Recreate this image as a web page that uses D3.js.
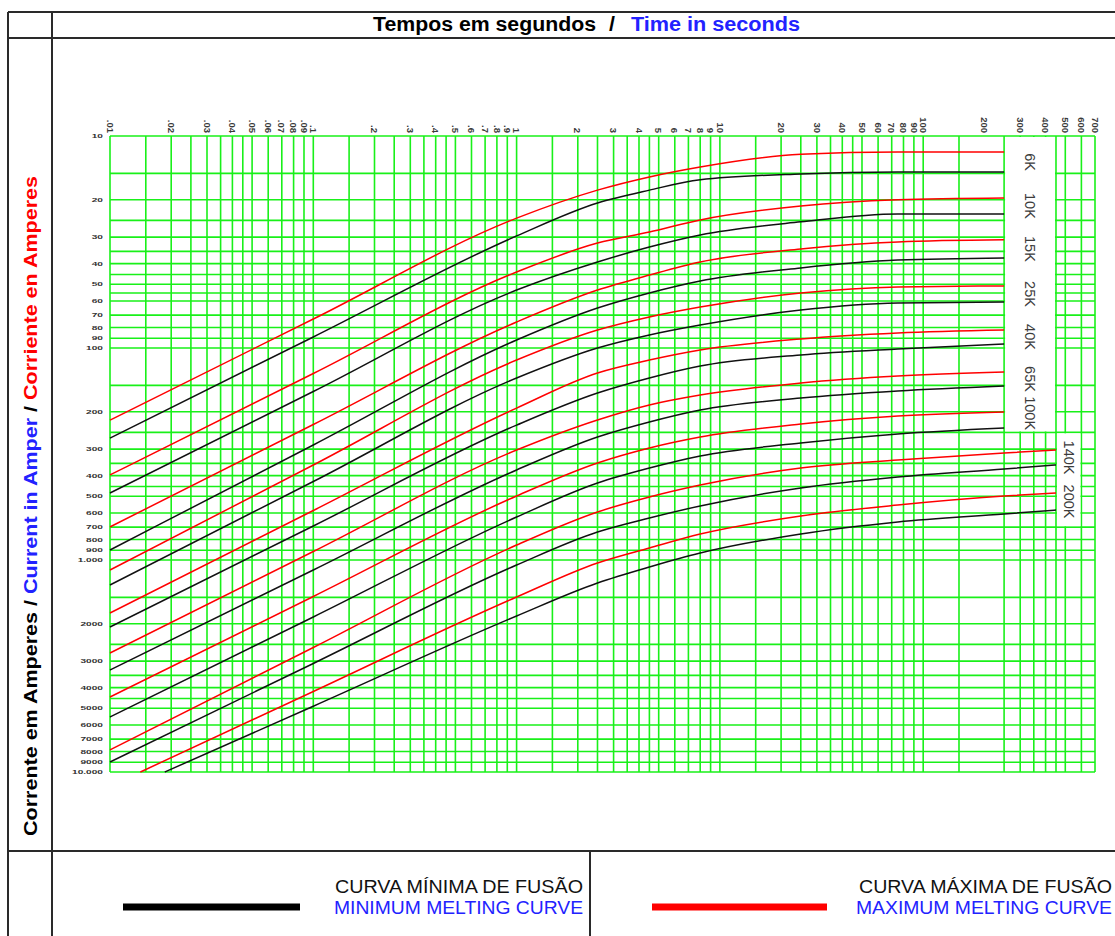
<!DOCTYPE html>
<html>
<head>
<meta charset="utf-8">
<script src="https://cdn.jsdelivr.net/npm/d3@7"></script>
<style>
body{margin:0;background:#fff;}
svg{display:block;font-family:"Liberation Sans",Arial,sans-serif;}
</style>
</head>
<body>
<svg id="chart" width="1115" height="936"></svg>
<script>
// time axis (seconds), printed along the top
let timeTicks = [0.01,0.02,0.03,0.04,0.05,0.06,0.07,0.08,0.09,0.1,0.2,0.3,0.4,0.5,0.6,0.7,0.8,0.9,
    1,2,3,4,5,6,7,8,9,10,20,30,40,50,60,70,80,90,100,200,300,400,500,600,700];
let timeLabels = [".01",".02",".03",".04",".05",".06",".07",".08",".09",".1",".2",".3",".4",".5",".6",".7",".8",".9",
    "1","2","3","4","5","6","7","8","9","10","20","30","40","50","60","70","80","90","100","200","300","400","500","600","700"];
// current axis (amperes), growing downwards
let currentTicks = [10,20,30,40,50,60,70,80,90,100,200,300,400,500,600,700,800,900,
    1000,2000,3000,4000,5000,6000,7000,8000,9000,10000];
let currentLabels = ["10","20","30","40","50","60","70","80","90","100","200","300","400","500","600","700","800","900",
    "1.000","2000","3000","4000","5000","6000","7000","8000","9000","10.000"];
let gridSteps = [1,1.5,2,2.5,3,3.5,4,4.5,5,6,7,8,9];
let missingTimeLines = [200];
let extraCurrentLines = [55];

let fuses = ["6K","10K","15K","25K","40K","65K","100K","140K","200K"];

// time points of the curves (s)
let times = [0.01,0.1,1,2.5,4.5,8,25,75,250];
let timesLong = [0.01,0.1,1,2.5,4.5,8,25,75,250,450];
let timesMax200K = [0.0141,0.1,1,2.5,4.5,8,25,75,250,450];
let timesMin200K = [0.0186,0.1,1,2.5,4.5,8,25,75,250,450];

// maximum melting (red) currents, A
let max6K   = [219,73.0,24.4,18.0,15.6,14.0,12.2,11.9,11.9];
let max10K  = [397,131.9,43.8,32.0,28.4,24.9,21.4,20.0,19.6];
let max15K  = [698,229.5,75.4,53.3,45.3,39.3,34.1,31.6,30.9];
let max25K  = [1115,356.4,114,82.3,71.4,64.1,55.0,51.5,51.0];
let max40K  = [1778,584.2,192,131.2,114,102.2,90.7,85.0,82.3];
let max65K  = [2746,912,303,218.6,185.7,166.7,146.2,135.5,129.8];
let max100K = [4429,1486,499,348.7,296.3,263,228.3,209.4,200.4];
let max140K = [7870,2586,850,593.7,504.6,443,368.3,337.6,312.8,302.9];
let max200K = [10000,4169,1495,1033,877.6,754,620,550.3,499,483];

// minimum melting (black) currents, A
let min6K   = [266,88.7,29.6,20.7,18.0,16.1,15.1,14.8,14.8];
let min10K  = [483,160.4,53.3,39.3,33.4,29.3,25.4,23.3,23.3];
let min15K  = [897,286.8,91.7,64.8,55.0,48.3,41.9,38.5,37.6];
let min25K  = [1312,426.4,138.5,100,86.8,77.9,66.2,61.3,60.7];
let min40K  = [2070,691.2,231,163.1,138.5,121.6,107.9,101.1,95.7];
let min65K  = [3303,1115,376,263,223.4,196.1,172.2,159.5,151.1];
let min100K = [5502,1857,627,433.5,368.3,323,280.6,254.5,238.5];
let min140K = [8974,3076,1056,737.9,633.8,556,457.3,406,372.3,356.4];
let min200K = [10000,4893,1837,1284,1079,926.8,754,662,606.7,581];

let maxCurves = [max6K,max10K,max15K,max25K,max40K,max65K,max100K,max140K,max200K];
let minCurves = [min6K,min10K,min15K,min25K,min40K,min65K,min100K,min140K,min200K];
let maxTimes = [times,times,times,times,times,times,times,timesLong,timesMax200K];
let minTimes = [times,times,times,times,times,times,times,timesLong,timesMin200K];

const svg = d3.select("#chart");
const green = "#19f019", blue = "#2222ff", frame = "#2a2a2a";

let x = d3.scaleLog().domain([0.01, 700]).range([110, 1095]);
let y = d3.scaleLog().domain([10, 10000]).range([136, 772]);

// ---- grid
let vLines = [];
[0.01,0.1,1,10,100].forEach(dec=>gridSteps.forEach(s=>{
    let v = +(dec*s).toPrecision(3);
    if(v<=700 && missingTimeLines.indexOf(v)<0) vLines.push(v);
}));
let hLines = [];
[10,100,1000].forEach(dec=>gridSteps.forEach(s=>hLines.push(dec*s)));
hLines.push(10000);
hLines = hLines.concat(extraCurrentLines);

let grid = svg.append("g").attr("id","grid")
    .style("stroke",green).style("stroke-width",1.6);
grid.selectAll("line.v").data(vLines).enter().append("line")
    .attr("class","v")
    .attr("x1",d=>x(d)).attr("x2",d=>x(d))
    .attr("y1",y(10)).attr("y2",y(10000));
grid.selectAll("line.h").data(hLines).enter().append("line")
    .attr("class","h")
    .attr("x1",x(0.01)).attr("x2",x(700))
    .attr("y1",d=>y(d)).attr("y2",d=>y(d));

// white boxes holding the rating names
let boxes = [
    {t0:250,t1:450,i0:10,i1:250},
    {t0:450,t1:600,i0:250,i1:700}
];
svg.append("g").selectAll("rect").data(boxes).enter().append("rect")
    .attr("x",d=>x(d.t0)+1).attr("width",d=>x(d.t1)-x(d.t0)-2)
    .attr("y",d=>y(d.i0)+1).attr("height",d=>y(d.i1)-y(d.i0)-2)
    .style("fill","#fff");

// ---- tick labels
svg.append("g").selectAll("text").data(timeTicks).enter().append("text")
    .attr("transform",d=>"translate("+x(d)+",133) rotate(90)")
    .attr("dy","0.35em")
    .style("text-anchor","end")
    .style("font-size","9.5px").style("font-weight","bold").style("fill","#3a3a3a")
    .text((d,i)=>timeLabels[i]);

svg.append("g").selectAll("text").data(currentTicks).enter().append("text")
    .attr("transform",d=>"translate(103,"+y(d)+") scale(1.35,0.8)")
    .attr("dy","0.35em")
    .style("text-anchor","end")
    .style("font-size","7.5px").style("font-weight","bold").style("fill","#333")
    .text((d,i)=>currentLabels[i]);

// ---- curves
let line = d3.line()
    .x(d=>x(d[0])).y(d=>y(d[1]))
    .curve(d3.curveMonotoneX);

let curves = svg.append("g").attr("id","curves").style("fill","none").style("stroke-width",1.5);
fuses.forEach((f,i)=>{
    curves.append("path")
        .attr("d",line(minTimes[i].map((t,k)=>[t,minCurves[i][k]])))
        .style("stroke","#111");
    curves.append("path")
        .attr("d",line(maxTimes[i].map((t,k)=>[t,maxCurves[i][k]])))
        .style("stroke","#ff0000");
});

// rating names inside the boxes
fuses.forEach((f,i)=>{
    let box = i<7 ? boxes[0] : boxes[1];
    let ma = maxCurves[i], mi = minCurves[i];
    let cy = (y(ma[ma.length-1])+y(mi[mi.length-1]))/2;
    let half = f.length*4.3;
    cy = Math.min(cy, y(box.i1)-half-2);
    svg.append("text")
        .attr("transform","translate("+((x(box.t0)+x(box.t1))/2)+","+cy+") rotate(90)")
        .attr("dy","0.35em")
        .style("text-anchor","middle")
        .style("font-size","14.5px").style("fill","#3c3c3c")
        .text(f);
});

// ---- frame
let fr = svg.append("g").style("stroke",frame).style("stroke-width",2);
[[8,12,1115,12],[8,38,1115,38],[8,851,1115,851],[8,12,8,936],[52,12,52,936],[590,851,590,936]]
    .forEach(l=>fr.append("line").attr("x1",l[0]).attr("y1",l[1]).attr("x2",l[2]).attr("y2",l[3]));

// title, three pieces
let titleParts = [
    {x:373,w:223,color:"#000",text:"Tempos em segundos"},
    {x:609,w:6,color:"#000",text:"/"},
    {x:631,w:169,color:blue,text:"Time in seconds"}
];
svg.append("g").selectAll("text").data(titleParts).enter().append("text")
    .attr("x",d=>d.x).attr("y",31)
    .attr("textLength",d=>d.w).attr("lengthAdjust","spacingAndGlyphs")
    .style("font-size","20px").style("font-weight","bold").style("fill",d=>d.color)
    .text(d=>d.text);

// vertical axis title
let ytitle = svg.append("text")
    .attr("transform","translate(37,836) rotate(-90)")
    .attr("textLength",660).attr("lengthAdjust","spacingAndGlyphs")
    .style("font-size","18px").style("font-weight","bold");
ytitle.append("tspan").style("fill","#000").text("Corrente em Amperes /\u00a0");
ytitle.append("tspan").style("fill",blue).text("Current in Amper");
ytitle.append("tspan").style("fill","#000").text("\u00a0/\u00a0");
ytitle.append("tspan").style("fill","#ff0000").text("Corriente en Amperes");

// ---- legend
let legend = [
    {x0:123,x1:300,tx:583,color:"#000",pt:"CURVA MÍNIMA DE FUSÃO",en:"MINIMUM MELTING CURVE",w1:248,w2:249},
    {x0:652,x1:827,tx:1112,color:"#ff0000",pt:"CURVA MÁXIMA DE FUSÃO",en:"MAXIMUM MELTING CURVE",w1:253,w2:256}
];
let lg = svg.append("g");
legend.forEach(d=>{
    lg.append("line").attr("x1",d.x0).attr("x2",d.x1).attr("y1",907).attr("y2",907)
        .style("stroke",d.color).style("stroke-width",7);
    lg.append("text").attr("x",d.tx).attr("y",893)
        .attr("textLength",d.w1).attr("lengthAdjust","spacingAndGlyphs")
        .style("text-anchor","end").style("font-size","19px").style("fill","#111")
        .text(d.pt);
    lg.append("text").attr("x",d.tx).attr("y",914)
        .attr("textLength",d.w2).attr("lengthAdjust","spacingAndGlyphs")
        .style("text-anchor","end").style("font-size","19px").style("fill",blue)
        .text(d.en);
});
</script>
</body>
</html>
